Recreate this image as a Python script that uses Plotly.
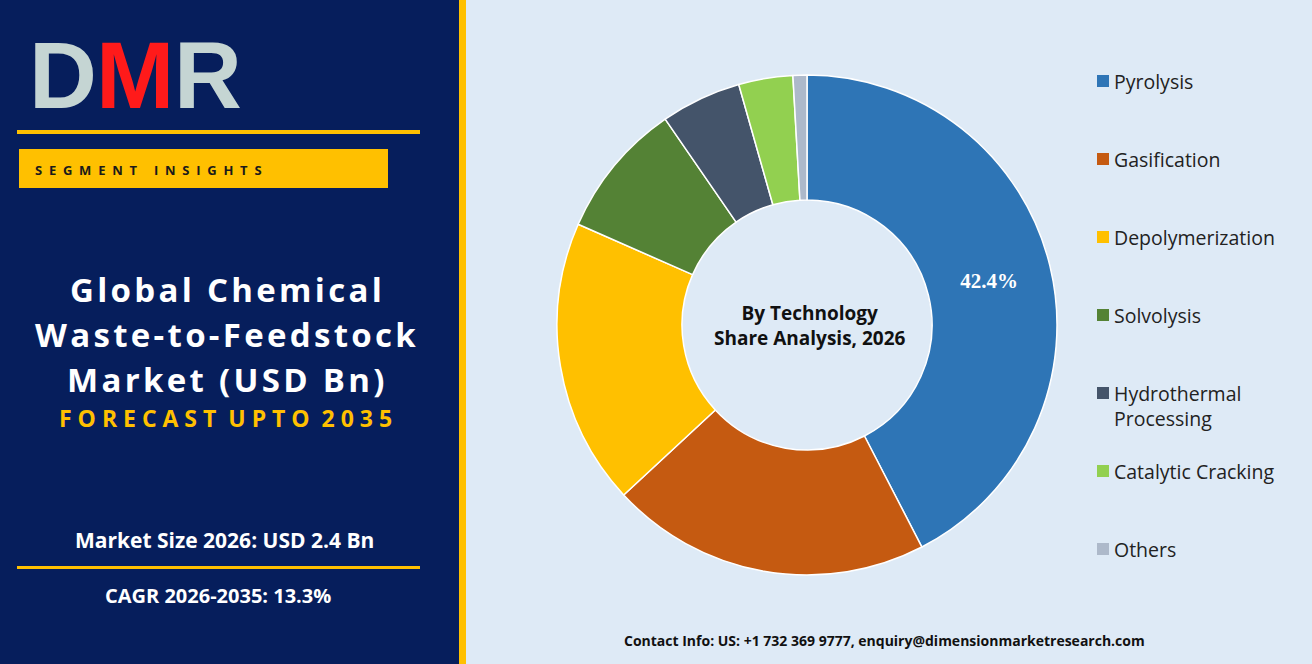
import plotly.graph_objects as go

labels = ["Pyrolysis", "Gasification", "Depolymerization", "Solvolysis",
          "Hydrothermal Processing", "Catalytic Cracking", "Others"]
legend_text = ["Pyrolysis", "Gasification", "Depolymerization", "Solvolysis",
               "Hydrothermal<br>Processing", "Catalytic Cracking", "Others"]
values = [42.4, 20.7, 18.5, 8.8, 5.2, 3.5, 0.9]
colors = ["#2E75B6", "#C55A11", "#FFC000", "#548235", "#44546A", "#92D050", "#ADB9CA"]

W, H = 1312, 664
def px(x): return x / W
def py(y): return 1 - y / H

NAVY = "#061E5C"
GOLD = "#FFC000"

fig = go.Figure()
fig.add_trace(go.Pie(
    labels=labels, values=values, hole=0.5, sort=False, direction="clockwise",
    rotation=0, marker=dict(colors=colors, line=dict(color="white", width=1.5)),
    texttemplate=["<b>%{percent:.1%}</b>"] + [""] * 6, textposition="inside",
    insidetextorientation="horizontal",
    textfont=dict(family="Liberation Serif", size=21, color="white"),
    domain=dict(x=[px(557), px(1057)], y=[py(575), py(75)]),
    showlegend=False, hoverinfo="label+percent"))

shapes = [
    dict(type="rect", xref="paper", yref="paper", x0=0, x1=px(459), y0=0, y1=1,
         fillcolor=NAVY, line_width=0, layer="below"),
    dict(type="rect", xref="paper", yref="paper", x0=px(459), x1=px(466), y0=0, y1=1,
         fillcolor=GOLD, line_width=0, layer="below"),
    dict(type="rect", xref="paper", yref="paper", x0=px(17), x1=px(420), y0=py(134), y1=py(130),
         fillcolor=GOLD, line_width=0),
    dict(type="rect", xref="paper", yref="paper", x0=px(19), x1=px(388), y0=py(188), y1=py(149),
         fillcolor=GOLD, line_width=0),
    dict(type="rect", xref="paper", yref="paper", x0=px(17), x1=px(420), y0=py(569), y1=py(566),
         fillcolor=GOLD, line_width=0),
]
ann = []
# logo
for letter, x0, col in [("D", 27, "#C5D5D3"), ("M", 94, "#FF1A1A"), ("R", 172, "#C5D5D3")]:
    ann.append(dict(x=px(x0), y=py(76), xanchor="left", yanchor="middle", text="<b>" + letter + "</b>",
                    font=dict(family="Liberation Sans", size=94, color=col), showarrow=False))
ann.append(dict(x=px(33), y=py(170), xanchor="left", yanchor="middle",
                text="<b>S  E  G  M  E  N  T     I  N  S  I  G  H  T  S</b>",
                font=dict(family="Open Sans", size=13, color="#1a1a1a"), showarrow=False))
for i, t in enumerate(["Global Chemical", "Waste-to-Feedstock", "Market (USD Bn)"]):
    ann.append(dict(x=px(226), y=py(289 + 45 * i), xanchor="center", yanchor="middle",
                    text="<b>" + "\u200a".join(t) + "</b>",
                    font=dict(family="Open Sans", size=33, color="white"), showarrow=False))
ann.append(dict(x=px(225), y=py(418), xanchor="center", yanchor="middle",
                text="<b>F O R E C A S T  U P T O  2 0 3 5</b>",
                font=dict(family="Open Sans", size=23, color=GOLD), showarrow=False))
ann.append(dict(x=px(224), y=py(540), xanchor="center", yanchor="middle",
                text="<b>Market Size 2026: USD 2.4 Bn</b>",
                font=dict(family="Open Sans", size=21, color="white"), showarrow=False))
ann.append(dict(x=px(218), y=py(595), xanchor="center", yanchor="middle",
                text="<b>CAGR 2026-2035: 13.3%</b>",
                font=dict(family="Open Sans", size=20, color="white"), showarrow=False))
ann.append(dict(x=px(810), y=py(325), xanchor="center", yanchor="middle",
                text="<b>By Technology<br>Share Analysis, 2026</b>",
                font=dict(family="Open Sans", size=19, color="#111111"), showarrow=False))
ann.append(dict(x=px(884), y=py(640), xanchor="center", yanchor="middle",
                text="<b>Contact Info: US: +1 732 369 9777, enquiry@dimensionmarketresearch.com</b>",
                font=dict(family="Open Sans", size=14, color="#111111"), showarrow=False))
# legend
for i, (t, c) in enumerate(zip(legend_text, colors)):
    yc = 81 + 78 * i
    shapes.append(dict(type="rect", xref="paper", yref="paper",
                       x0=px(1097), x1=px(1109), y0=py(yc + 6), y1=py(yc - 6),
                       fillcolor=c, line_width=0))
    ann.append(dict(x=px(1112), y=py(yc - 15), xanchor="left", yanchor="top",
                    text=t, align="left",
                    font=dict(family="Open Sans", size=19.5, color="#222222"), showarrow=False))

fig.update_layout(width=W, height=H, margin=dict(l=0, r=0, t=0, b=0),
                  paper_bgcolor="#DEEAF6", plot_bgcolor="#DEEAF6",
                  shapes=shapes, annotations=ann)
fig.write_html("out.html", config={"displayModeBar": False},
               post_script="document.body.style.margin='0';document.body.style.overflow='hidden';")
